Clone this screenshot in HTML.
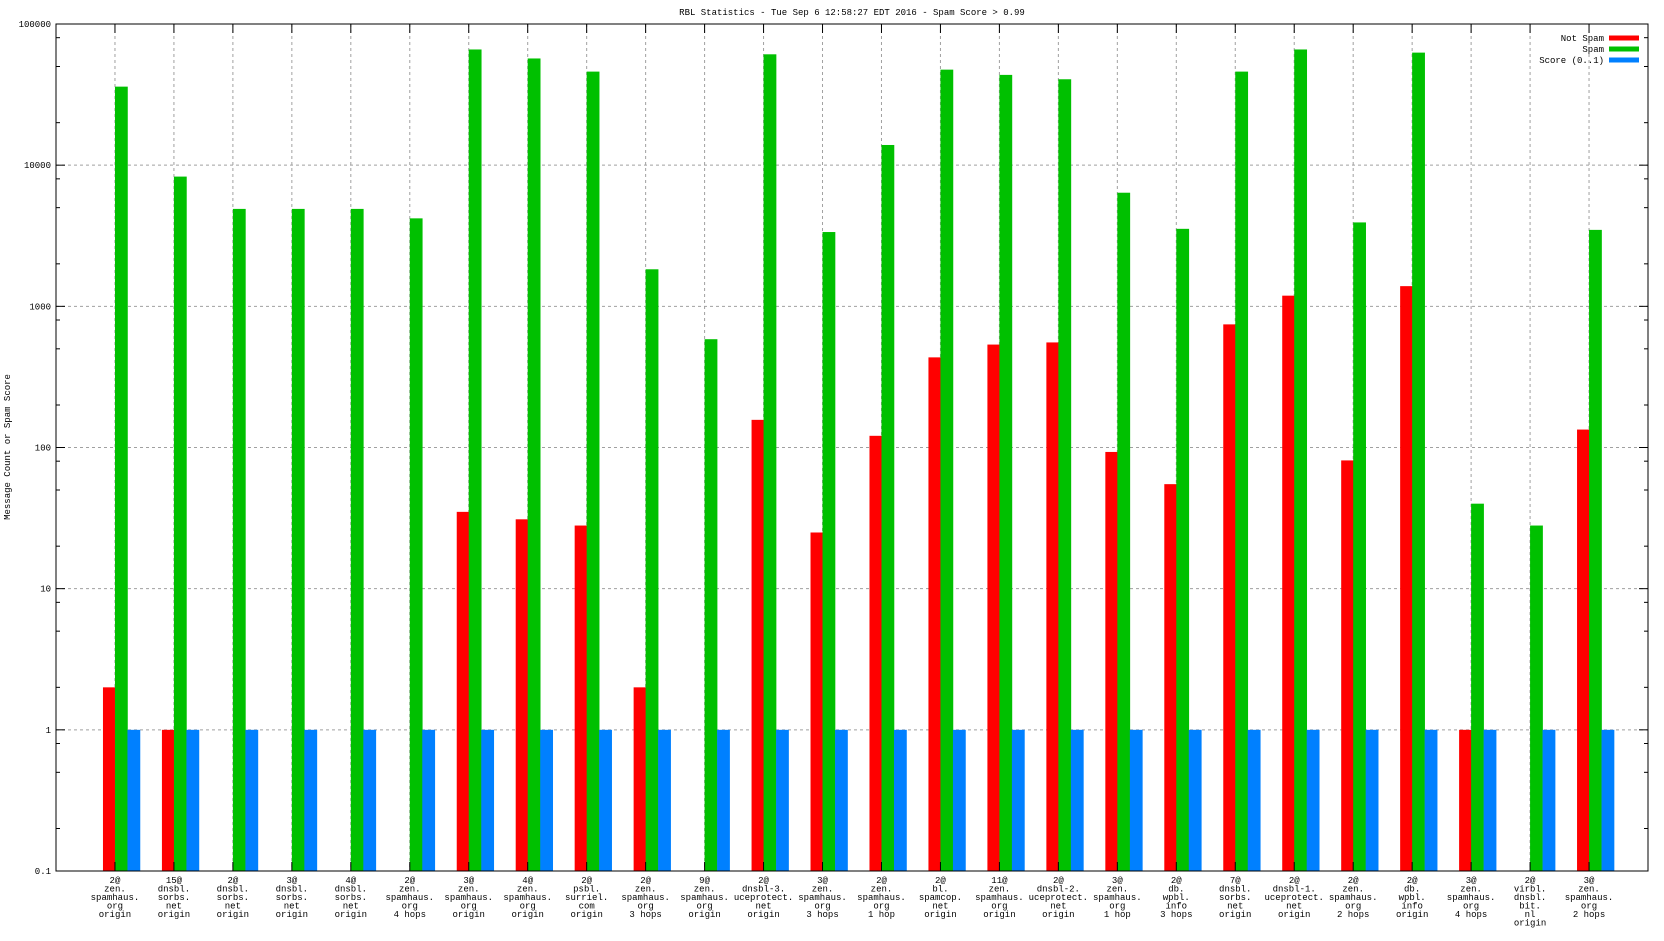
<!DOCTYPE html>
<html><head><meta charset="utf-8"><style>
html,body{margin:0;padding:0;background:#fff;}
svg text{font-family:"Liberation Mono",monospace;font-size:9px;fill:#000;}
</style></head><body>
<svg id="chart" width="1664" height="936" xmlns="http://www.w3.org/2000/svg">
<text x="852" y="15" text-anchor="middle">RBL Statistics - Tue Sep  6 12:58:27 EDT 2016 - Spam Score &gt; 0.99</text>
<text transform="translate(10,447) rotate(-90)" text-anchor="middle">Message Count or Spam Score</text>
<g id="grid"></g><g id="bars"></g><g id="axes"></g><g id="legend"></g>
</svg>
<script>
const categories = ["2@|zen.|spamhaus.|org|origin","15@|dnsbl.|sorbs.|net|origin","2@|dnsbl.|sorbs.|net|origin","3@|dnsbl.|sorbs.|net|origin","4@|dnsbl.|sorbs.|net|origin","2@|zen.|spamhaus.|org|4 hops","3@|zen.|spamhaus.|org|origin","4@|zen.|spamhaus.|org|origin","2@|psbl.|surriel.|com|origin","2@|zen.|spamhaus.|org|3 hops","9@|zen.|spamhaus.|org|origin","2@|dnsbl-3.|uceprotect.|net|origin","3@|zen.|spamhaus.|org|3 hops","2@|zen.|spamhaus.|org|1 hop","2@|bl.|spamcop.|net|origin","11@|zen.|spamhaus.|org|origin","2@|dnsbl-2.|uceprotect.|net|origin","3@|zen.|spamhaus.|org|1 hop","2@|db.|wpbl.|info|3 hops","7@|dnsbl.|sorbs.|net|origin","2@|dnsbl-1.|uceprotect.|net|origin","2@|zen.|spamhaus.|org|2 hops","2@|db.|wpbl.|info|origin","3@|zen.|spamhaus.|org|4 hops","2@|virbl.|dnsbl.|bit.|nl|origin","3@|zen.|spamhaus.|org|2 hops"];
const notSpam = [2,1,0,0,0,0,35,31,28,2,0,157,25,121,435,536,555,93,55,745,1190,81,1390,1,0,134];
const spam = [36000,8300,4900,4900,4900,4200,66000,57000,46000,1830,585,61000,3360,13900,47500,43600,40600,6380,3540,46000,66000,3930,62700,40,28,3480];
const score = [1,1,1,1,1,1,1,1,1,1,1,1,1,1,1,1,1,1,1,1,1,1,1,1,1,1];
const yTicks = ["0.1","1","10","100","1000","10000","100000"];
const seriesNames = ["Not Spam","Spam","Score (0..1)"];
const colors = ["#ff0000","#00c000","#0080ff"];

const NS="http://www.w3.org/2000/svg";
const L=56,R=1648,T=24,B=871;
const yMin=-1,yMax=5;
function y(v){return B-(Math.log10(v)-yMin)/(yMax-yMin)*(B-T);}
const step=(R-L)/(categories.length+1);
function x(i){return L+(i+1)*step;}
function mk(tag,attrs,parent){const e=document.createElementNS(NS,tag);for(const k in attrs)e.setAttribute(k,attrs[k]);parent.appendChild(e);return e;}
const grid=document.getElementById('grid'),bars=document.getElementById('bars'),axes=document.getElementById('axes'),leg=document.getElementById('legend');

// y grid, ticks, labels
yTicks.forEach(t=>{
  const v=parseFloat(t),yy=y(v);
  if(v>0.1&&v<100000){const g=mk('line',{x1:L,x2:R,y1:yy,y2:yy,stroke:'#a0a0a0','stroke-dasharray':'3,3'},grid);
  
  }
  const tk=mk('line',{x1:L,x2:L+9,y1:yy,y2:yy,stroke:'#000'},axes);
  
  
  mk('line',{x1:R-9,x2:R,y1:yy,y2:yy,stroke:'#000'},axes);
  const tx=mk('text',{x:L-5,y:yy+3,'text-anchor':'end'},axes);tx.textContent=t;
  
  
  if(v<100000){[2,5,8].forEach(m=>{const ym=y(v*m);
    mk('line',{x1:L,x2:L+4,y1:ym,y2:ym,stroke:'#000'},axes);
    mk('line',{x1:R-4,x2:R,y1:ym,y2:ym,stroke:'#000'},axes);});}
});
// x grid and labels
categories.forEach((c,i)=>{
  const xx=x(i);
  const g=mk('line',{x1:xx,x2:xx,y1:T,y2:B,stroke:'#a0a0a0','stroke-dasharray':'3,3'},grid);
  
  
  mk('line',{x1:xx,x2:xx,y1:T,y2:T+9,stroke:'#000'},axes);
  mk('line',{x1:xx,x2:xx,y1:B-9,y2:B,stroke:'#000'},axes);
  const tx=mk('text',{x:xx,y:B+12,'text-anchor':'middle'},axes);
  
  
  c.split('|').forEach((ln,j)=>{const ts=mk('tspan',{x:xx,dy:j?8.5:0},tx);ts.textContent=ln;});
  const series=[notSpam,spam,score],offs=[-12,0,12.5];
  series.forEach((s,k)=>{const v=s[i];if(!(v>0))return;
    const yy=y(v);
    const r=mk('rect',{x:xx+offs[k],y:yy,width:12.8,height:B-yy,fill:colors[k]},bars);
    
    });
});
const frame=mk('rect',{x:L,y:T,width:R-L,height:B-T,fill:'none',stroke:'#000','stroke-width':1},axes);


// legend
seriesNames.forEach((n,k)=>{
  const yy=38+k*11;
  const t=mk('text',{x:1604,y:yy+3,'text-anchor':'end'},leg);t.textContent=n;
  
  
  const r=mk('rect',{x:1609,y:yy-2.5,width:30,height:5,fill:colors[k]},leg);
  
  
});
</script>
</body></html>
